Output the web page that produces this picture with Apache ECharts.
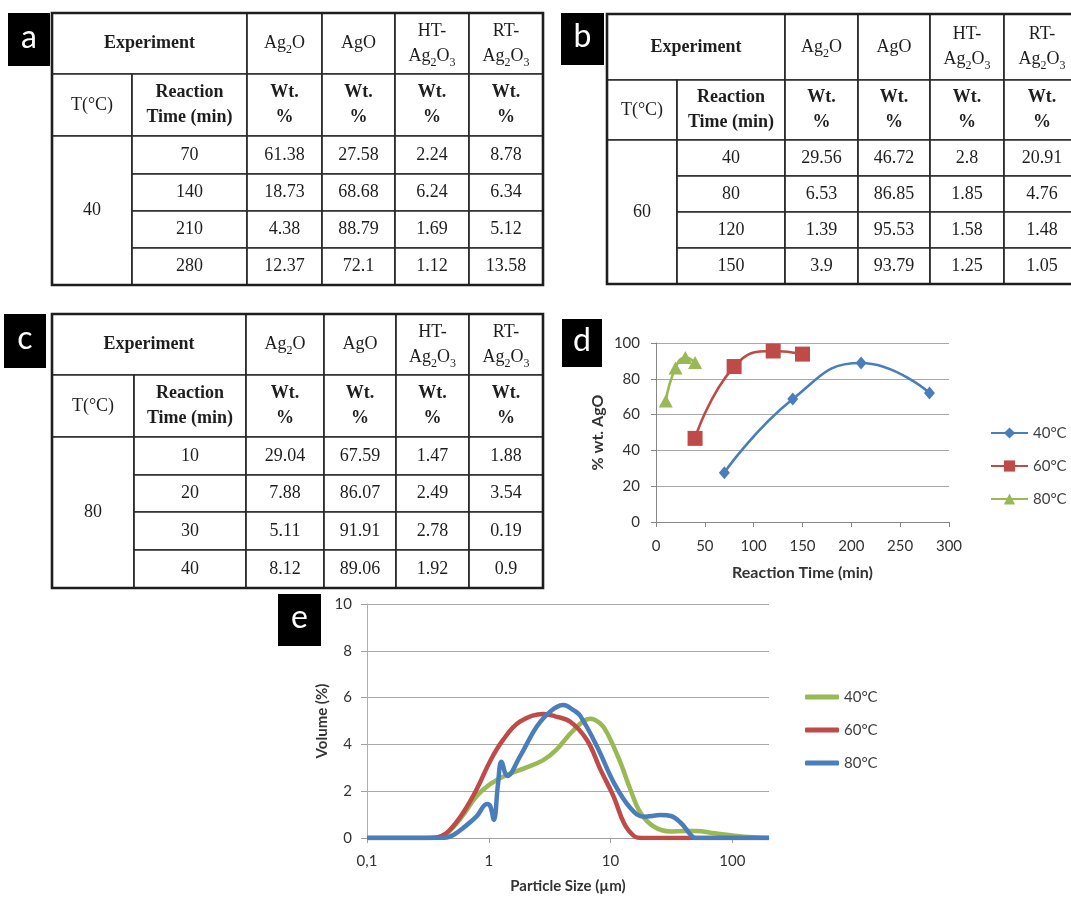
<!DOCTYPE html>
<html><head><meta charset="utf-8">
<script src="https://cdn.jsdelivr.net/npm/echarts@6/dist/echarts.min.js"></script>
<style>html,body{margin:0;padding:0;background:#fff}#c{width:1071px;height:899px}</style>
</head><body><div id="c"></div>
<script>
// ================= DATA =================
const headerExperiment = 'Experiment';
const headerCompounds = ['Ag{s|2}O', 'AgO', 'HT-\nAg{s|2}O{s|3}', 'RT-\nAg{s|2}O{s|3}'];
const headerTemp = 'T(°C)';
const headerTime = 'Reaction\nTime (min)';
const headerUnit = 'Wt.\n%';

// table a (40 °C)
const tempA = 40;
const timesA = [70, 140, 210, 280];
const ag2oA = [61.38, 18.73, 4.38, 12.37];
const agoA = [27.58, 68.68, 88.79, 72.1];
const htA = [2.24, 6.24, 1.69, 1.12];
const rtA = [8.78, 6.34, 5.12, 13.58];

// table b (60 °C)
const tempB = 60;
const timesB = [40, 80, 120, 150];
const ag2oB = [29.56, 6.53, 1.39, 3.9];
const agoB = [46.72, 86.85, 95.53, 93.79];
const htB = [2.8, 1.85, 1.58, 1.25];
const rtB = [20.91, 4.76, 1.48, 1.05];

// table c (80 °C)
const tempC = 80;
const timesC = [10, 20, 30, 40];
const ag2oC = [29.04, 7.88, 5.11, 8.12];
const agoC = [67.59, 86.07, 91.91, 89.06];
const htC = [1.47, 2.49, 2.78, 1.92];
const rtC = [1.88, 3.54, 0.19, 0.9];

// chart d
const dSeriesNames = ['40°C', '60°C', '80°C'];

// chart e (particle size distribution, [size µm, volume %])
const eSeriesNames = ['40°C', '60°C', '80°C'];
const e40 = [[0.1,0],[0.3,0],[0.38,0.03],[0.45,0.2],[0.52,0.5],[0.61,0.95],[0.79,1.77],[1.0,2.26],[1.4,2.69],[2.0,3.0],[2.8,3.33],[3.6,3.78],[5.0,4.62],[6.8,5.1],[8.2,4.9],[9.4,4.48],[12.1,3.2],[14.6,2.05],[17.7,1.06],[22.8,0.48],[31,0.28],[40,0.3],[50,0.3],[72,0.2],[104,0.1],[150,0.03],[200,0]];
const e60 = [[0.1,0],[0.33,0],[0.4,0.06],[0.47,0.3],[0.61,1.05],[0.79,2.05],[1.02,3.26],[1.31,4.19],[1.8,4.97],[2.8,5.3],[3.5,5.2],[4.67,4.97],[6.4,4.19],[8.3,2.9],[10.6,1.77],[12.9,0.63],[15.6,0.08],[18,0],[50,0],[200,0]];
const e80 = [[0.1,0],[0.4,0],[0.46,0.03],[0.52,0.15],[0.61,0.41],[0.79,0.91],[0.97,1.45],[1.03,1.35],[1.1,0.77],[1.19,2.3],[1.27,3.26],[1.42,2.65],[1.8,3.48],[2.48,4.76],[3.19,5.4],[4.11,5.68],[5.0,5.45],[5.64,5.22],[7.76,3.9],[10.6,2.38],[14.6,1.27],[18.8,0.91],[25.9,0.98],[31.3,0.94],[38,0.63],[45.7,0.13],[50,0],[200,0]];
const eTickValues = [0.1, 1, 10, 100];
const eTickLabels = ['0,1', '1', '10', '100'];

// ================= LAYOUT / STYLE =================
const layoutA = {left: 52, top: 13, colW: [80, 115, 75, 73, 74, 74], rowH: [61, 62, 38, 37, 37, 37]};
const layoutB = {left: 607, top: 14, colW: [70, 108, 73, 72, 74, 76], rowH: [66, 60, 36, 36, 36, 36]};
const layoutC = {left: 52, top: 314, colW: [82, 112, 78, 72, 73, 74], rowH: [61, 62, 38, 37, 38, 38]};
const cBlue = '#4a7ebb', cRed = '#be4b48', cGreen = '#98b954';
const serif = 'Liberation Serif';
const sans = 'Lato';

function edges(arr) { const e = [0]; arr.forEach(v => e.push(e[e.length - 1] + v)); return e; }

function buildCells(temp, times, cols, layout) {
  const cx = edges(layout.colW), ry = edges(layout.rowH);
  const cells = [];
  const add = (c0, c1, r0, r1, text, bold, frame) =>
    cells.push({value: [cx[c0], cx[c1], ry[r0], ry[r1]], text, bold, frame});
  add(0, 2, 0, 1, headerExperiment, true);
  headerCompounds.forEach((h, k) => add(2 + k, 3 + k, 0, 1, h, false));
  add(0, 1, 1, 2, headerTemp, false);
  add(1, 2, 1, 2, headerTime, true);
  headerCompounds.forEach((h, k) => add(2 + k, 3 + k, 1, 2, headerUnit, true));
  add(0, 1, 2, 6, String(temp), false);
  times.forEach((t, i) => {
    add(1, 2, 2 + i, 3 + i, String(t), false);
    cols.forEach((col, k) => add(2 + k, 3 + k, 2 + i, 3 + i, String(col[i]), false));
  });
  add(0, 6, 0, 6, '', false, true);
  return cells;
}

const tables = [
  {layout: layoutA, cells: buildCells(tempA, timesA, [ag2oA, agoA, htA, rtA], layoutA)},
  {layout: layoutB, cells: buildCells(tempB, timesB, [ag2oB, agoB, htB, rtB], layoutB)},
  {layout: layoutC, cells: buildCells(tempC, timesC, [ag2oC, agoC, htC, rtC], layoutC)}
];

const grids = [], xAxes = [], yAxes = [], series = [];
tables.forEach((t, gi) => {
  const w = t.layout.colW.reduce((a, b) => a + b, 0);
  const h = t.layout.rowH.reduce((a, b) => a + b, 0);
  grids.push({left: t.layout.left, top: t.layout.top, width: w, height: h, outerBoundsMode: 'none', containLabel: false});
  xAxes.push({type: 'value', gridIndex: gi, min: 0, max: w, show: false});
  yAxes.push({type: 'value', gridIndex: gi, min: 0, max: h, inverse: true, show: false});
  series.push({
    type: 'custom', xAxisIndex: gi, yAxisIndex: gi, clip: false, silent: true,
    data: t.cells.map(c => c.value),
    renderItem: function (params, api) {
      const cell = t.cells[params.dataIndex];
      const p0 = api.coord([api.value(0), api.value(2)]);
      const p1 = api.coord([api.value(1), api.value(3)]);
      const shape = {x: p0[0], y: p0[1], width: p1[0] - p0[0], height: p1[1] - p0[1]};
      if (cell.frame) {
        return {type: 'rect', shape, style: {fill: 'none', stroke: '#1e1e1e', lineWidth: 2.6}, z2: 10};
      }
      return {type: 'group', children: [
        {type: 'rect', shape, style: {fill: '#fff', stroke: '#2a2a2a', lineWidth: 1.7}},
        {type: 'text', z2: 5, style: {
          x: (p0[0] + p1[0]) / 2, y: (p0[1] + p1[1]) / 2, text: cell.text,
          align: 'center', verticalAlign: 'middle',
          fontFamily: serif, fontSize: 18, fontWeight: cell.bold ? 'bold' : 'normal',
          fill: '#1e1e1e', lineHeight: 25,
          rich: {s: {fontFamily: serif, fontSize: 12, lineHeight: 15, verticalAlign: 'bottom', fill: '#1e1e1e'}}
        }}
      ]};
    }
  });
});

// chart d grid (index 3)
const axisGray = '#868686', gridGray = '#a8a8a8', txt = '#333';
grids.push({left: 656, top: 343, width: 293, height: 179, outerBoundsMode: 'none', containLabel: false});
xAxes.push({type: 'value', gridIndex: 3, min: 0, max: 300, interval: 50,
  axisLine: {show: true, lineStyle: {color: axisGray, width: 1}},
  axisTick: {show: true, length: 5, lineStyle: {color: axisGray}},
  axisLabel: {fontFamily: sans, fontSize: 15, color: txt, margin: 17},
  splitLine: {show: false},
  name: 'Reaction Time (min)', nameLocation: 'middle', nameGap: 43,
  nameTextStyle: {fontFamily: sans, fontSize: 16, fontWeight: 'bold', color: txt}});
yAxes.push({type: 'value', gridIndex: 3, min: 0, max: 100, interval: 20,
  axisLine: {show: true, lineStyle: {color: axisGray, width: 1}},
  axisTick: {show: true, length: 5, lineStyle: {color: axisGray}},
  axisLabel: {fontFamily: sans, fontSize: 15, color: txt, margin: 16},
  splitLine: {show: true, lineStyle: {color: gridGray, width: 1}},
  name: '% wt. AgO', nameLocation: 'middle', nameGap: 50, nameRotate: 90,
  nameTextStyle: {fontFamily: sans, fontSize: 16, fontWeight: 'bold', color: txt}});

const dData = [[timesA, agoA], [timesB, agoB], [timesC, agoC]];
const dColors = [cBlue, cRed, cGreen];
const dSymbols = ['diamond', 'rect', 'triangle'];
const dSizes = [[11, 13], 15, [14, 13]];
dData.forEach((d, i) => {
  series.push({type: 'line', name: dSeriesNames[i], xAxisIndex: 3, yAxisIndex: 3,
    data: d[0].map((t, j) => [t, d[1][j]]), smooth: 0.5,
    symbol: dSymbols[i], symbolSize: dSizes[i],
    lineStyle: {color: dColors[i], width: 2.6}, itemStyle: {color: dColors[i]}, z: 3});
});

// chart e grid (index 4)
grids.push({left: 367, top: 604, width: 402, height: 234, outerBoundsMode: 'none', containLabel: false});
xAxes.push({type: 'log', logBase: 10, gridIndex: 4, min: 0.1, max: 200,
  axisLine: {show: true, lineStyle: {color: '#a0a0a0', width: 1}},
  axisTick: {show: true, length: 5, customValues: eTickValues, lineStyle: {color: '#a0a0a0'}},
  axisLabel: {fontFamily: sans, fontSize: 15, color: txt, margin: 16, customValues: eTickValues,
    formatter: v => { let bi = 0; eTickValues.forEach((t, i) => { if (Math.abs(Math.log10(t) - Math.log10(v)) < Math.abs(Math.log10(eTickValues[bi]) - Math.log10(v))) bi = i; }); return eTickLabels[bi]; }},
  splitLine: {show: false},
  name: 'Particle Size (µm)', nameLocation: 'middle', nameGap: 41,
  nameTextStyle: {fontFamily: sans, fontSize: 15, fontWeight: 'bold', color: txt}});
yAxes.push({type: 'value', gridIndex: 4, min: 0, max: 10, interval: 2,
  axisLine: {show: true, lineStyle: {color: '#b0b0b0', width: 1}},
  axisTick: {show: true, length: 6, lineStyle: {color: '#a0a0a0'}},
  axisLabel: {fontFamily: sans, fontSize: 15, color: txt, margin: 15},
  splitLine: {show: true, lineStyle: {color: gridGray, width: 1}},
  name: 'Volume (%)', nameLocation: 'middle', nameGap: 37, nameRotate: 90,
  nameTextStyle: {fontFamily: sans, fontSize: 15, fontWeight: 'bold', color: txt}});

const eData = [e40, e60, e80];
const eColors = [cGreen, cRed, cBlue];
const eIds = ['e40', 'e60', 'e80'];
eData.forEach((d, i) => {
  series.push({type: 'line', name: eIds[i], xAxisIndex: 4, yAxisIndex: 4,
    data: d, smooth: 0.4, symbol: 'none', showSymbol: false,
    lineStyle: {color: eColors[i], width: 4.5}, itemStyle: {color: eColors[i]}, z: 3 + i});
});

// panel labels
const panelLabels = [
  {t: 'a', x: 8, y: 13, w: 42, h: 53},
  {t: 'b', x: 561, y: 13, w: 43, h: 52},
  {t: 'c', x: 4, y: 314, w: 42, h: 54},
  {t: 'd', x: 562, y: 319, w: 40, h: 48},
  {t: 'e', x: 278, y: 594, w: 43, h: 52}
];
const graphic = [];
panelLabels.forEach(p => {
  graphic.push({type: 'rect', left: p.x, top: p.y, shape: {width: p.w, height: p.h}, style: {fill: '#000'}, z: 100});
  graphic.push({type: 'text', x: p.x + p.w / 2, y: p.y + p.h / 2 - 2, z: 101,
    style: {text: p.t, fill: '#fff', fontFamily: sans, fontSize: 32, align: 'center', verticalAlign: 'middle'}});
});

const chart = echarts.init(document.getElementById('c'), null, {renderer: 'canvas'});
chart.setOption({
  animation: false,
  backgroundColor: '#fff',
  textStyle: {fontFamily: sans},
  grid: grids, xAxis: xAxes, yAxis: yAxes, series,
  legend: [
    {orient: 'vertical', left: 990, top: 425.5, padding: 0, itemWidth: 37, itemHeight: 14, itemGap: 18, itemTextGap: 2,
      data: dSeriesNames, selectedMode: false,
      textStyle: {fontFamily: sans, fontSize: 15, color: '#404040'}},
    {orient: 'vertical', left: 805, top: 689.5, padding: 0, itemWidth: 34, itemHeight: 5, itemGap: 18, itemTextGap: 2,
      icon: 'roundRect',
      data: eIds, selectedMode: false, formatter: n => eSeriesNames[eIds.indexOf(n)],
      textStyle: {fontFamily: sans, fontSize: 15, color: '#404040'}}
  ],
  graphic
});
</script></body></html>
